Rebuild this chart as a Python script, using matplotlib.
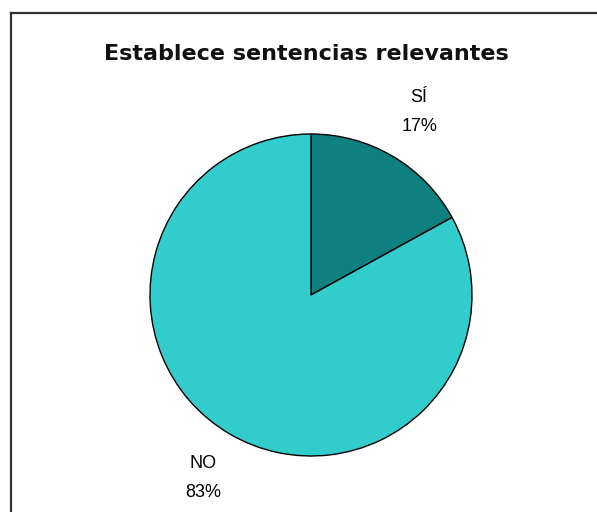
import numpy as np
import matplotlib.pyplot as plt
from matplotlib.lines import Line2D

labels = ['SÍ', 'NO']
shares = [17, 83]
colors = ['#0e8080', '#33cccc']
title = 'Establece sentencias relevantes'

W, H = 597, 512
CX, CY, R = 311, H - 295, 161


def main():
    fig = plt.figure(figsize=(W / 100, H / 100), dpi=100)
    ax = fig.add_axes([0, 0, 1, 1])

    wedges, _ = ax.pie(
        shares,
        colors=colors,
        startangle=90,
        counterclock=False,
        center=(CX, CY),
        radius=R,
        frame=True,
        wedgeprops=dict(edgecolor='black', linewidth=1.0),
    )
    ax.set_xlim(0, W)
    ax.set_ylim(0, H)
    ax.set_aspect('equal')
    ax.axis('off')

    # name and percentage outside each slice, at its mid angle
    for w, lab, v in zip(wedges, labels, shares):
        ang = np.deg2rad((w.theta1 + w.theta2) / 2)
        x = CX + 1.32 * R * np.cos(ang)
        y = CY + 1.32 * R * np.sin(ang)
        ax.text(x, y + 14.5, lab, ha='center', va='center',
                fontsize=13, family='Liberation Sans')
        ax.text(x, y - 14.5, f'{v}%', ha='center', va='center',
                fontsize=13, family='Liberation Sans')

    fig.text(306.5 / W, 1 - 54 / H, title, ha='center', va='center',
             fontsize=16, fontweight='bold', family='DejaVu Sans',
             color='#111111')

    # chart frame: top and left edges
    fig.add_artist(Line2D([11 / W, 1], [1 - 13 / H, 1 - 13 / H],
                          transform=fig.transFigure, color='#333333', lw=1.6))
    fig.add_artist(Line2D([11 / W, 11 / W], [0, 1 - 13 / H],
                          transform=fig.transFigure, color='#333333', lw=1.6))

    fig.savefig('out.png', dpi=100)


if __name__ == '__main__':
    main()
